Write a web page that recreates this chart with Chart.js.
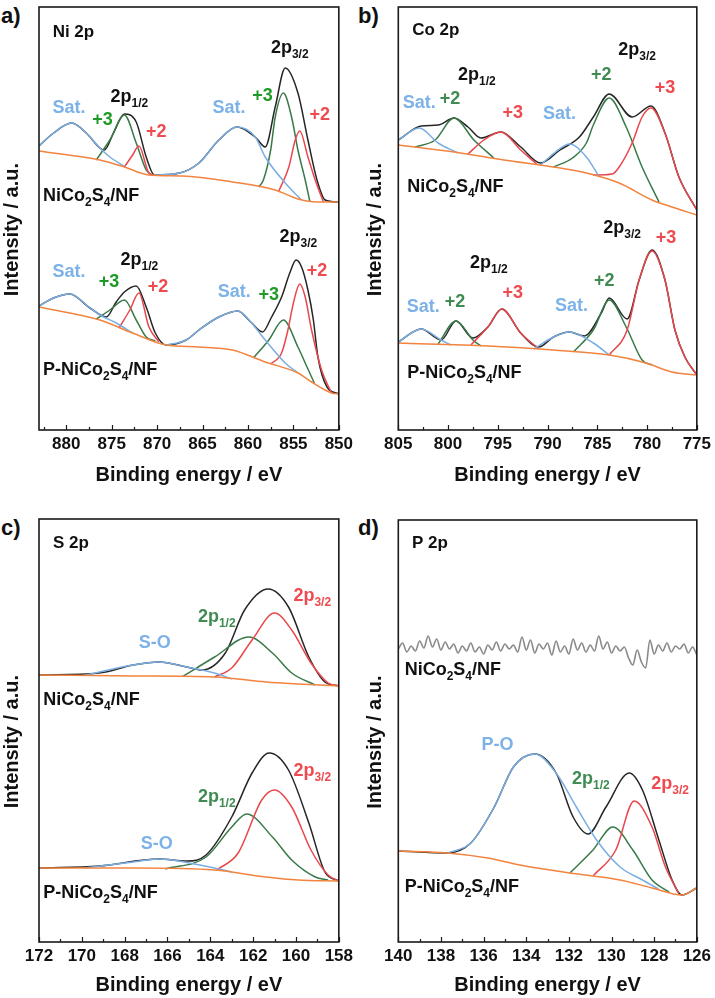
<!DOCTYPE html>
<html><head><meta charset="utf-8">
<script src="https://cdn.jsdelivr.net/npm/chart.js@4/dist/chart.umd.min.js"></script>
<style>
body{margin:0;background:#fff;width:715px;height:998px;position:relative;overflow:hidden;font-family:"Liberation Sans",Arial,sans-serif}
canvas{position:absolute}
.pl{position:absolute;font-weight:bold;font-size:22px;line-height:22px;color:#111}
</style></head><body>
<div class="pl" style="left:1px;top:5px">a)</div>
<div class="pl" style="left:358px;top:5px">b)</div>
<div class="pl" style="left:1px;top:517px">c)</div>
<div class="pl" style="left:358px;top:517px">d)</div>
<canvas id="ca" width="357" height="498" style="left:0;top:0"></canvas>
<canvas id="cb" width="358" height="498" style="left:357px;top:0"></canvas>
<canvas id="cc" width="357" height="500" style="left:0;top:498px"></canvas>
<canvas id="cd" width="358" height="500" style="left:357px;top:498px"></canvas>
<script>
// ---------- tick labels ----------
const aTicks=[880,875,870,865,860,855,850], aMinor=[882.5,877.5,872.5,867.5,862.5,857.5,852.5];
const bTicks=[805,800,795,790,785,780,775], bMinor=[802.5,797.5,792.5,787.5,782.5,777.5];
const cTicks=[172,170,168,166,164,162,160,158], cMinor=[171,169,167,165,163,161,159];
const dTicks=[140,138,136,134,132,130,128,126], dMinor=[139,137,135,133,131,129,127];

// ---------- (a) Ni 2p : [binding energy eV, intensity a.u.] ----------
const aTopEnv=[[883,284],[881.4,297],[879.4,307],[877.8,297],[876.3,282],[875.8,280],[874.8,297],[873.6,316],[872.3,308],[871.2,273],[870.3,255],[867.5,257],[865.4,267],[863.2,290],[861.2,303],[859.2,293],[858.1,283],[857,323],[855.9,362],[854.5,337],[853.4,290],[852.4,250],[851.5,230],[850,228]];
const aTopBg=[[883,279],[876.3,270],[873.6,263],[870.9,255],[867.2,254],[861.7,248],[857,240],[854.5,231],[852.4,228],[850,228]];
const aTopSat1=[[883,284],[881.4,297],[879.4,307],[877.8,297],[876.3,282],[875.2,273],[873.5,263]];
const aTopNi3a=[[876.7,270],[875.2,290],[873.6,315],[872.3,287],[871.2,260],[870.6,255]];
const aTopNi2a=[[873.6,263],[872.7,275],[872,284],[870.9,257],[870.3,255]];
const aTopSat2=[[870.3,255],[867.5,257],[865.4,267],[863.2,290],[861.2,303],[859.2,293],[858.1,273],[855.5,243],[854.1,230]];
const aTopNi3b=[[858.8,243],[858.3,250],[857.5,280],[857,313],[856.1,337],[855.2,313],[854.5,280],[853.7,250],[853.2,229]];
const aTopNi2b=[[856.6,239],[855.5,263],[854.8,290],[854.3,299],[853.4,273],[852.6,250],[851.7,228]];

const aBotEnv=[[883,124],[881.4,132],[879.6,136],[877.4,122],[875.6,113],[874.5,128],[873.6,138],[872.3,144],[871.2,123],[870.2,97],[869,85],[866.8,90],[865.4,100],[863.2,113],[861.1,119],[859.7,108],[858.4,98],[857.4,113],[856.3,133],[855.4,157],[854.7,170],[854.1,163],[853.4,140],[852.8,110],[852.3,73],[851.3,43],[850,36]];
const aBotBg=[[883,123],[876.3,110],[872.7,97],[869,85],[865.4,83],[861.7,80],[858.1,68],[854.5,57],[853,48],[850.8,37],[850,36]];
const aBotSat1=[[883,124],[881.4,132],[879.6,136],[877.4,122],[876.3,115],[874.5,107],[872.7,97]];
const aBotNi3a=[[876.7,111],[875.2,120],[873.6,130],[872.3,110],[871.2,93],[870.2,89]];
const aBotNi2a=[[874.2,102],[873,120],[872,137],[870.9,103],[869.8,88]];
const aBotSat2=[[869,85],[866.8,90],[865.4,100],[863.2,113],[861.1,119],[859.7,108],[858.1,90],[855.9,67],[854.5,57]];
const aBotNi3b=[[859.4,72],[857.7,90],[856.1,110],[854.5,83],[853.5,63],[852.7,47]];
const aBotNi2b=[[857.5,66],[856.3,77],[855.6,100],[855,127],[854.3,146],[853.7,133],[853,100],[851.9,60],[850.8,37]];

// ---------- (b) Co 2p ----------
const bTopEnv=[[805,290],[802.7,304],[801,305],[799.4,312],[798,303],[796.7,292],[794.7,298],[792.7,283],[790.7,267],[788.75,280],[786.8,293],[785.4,313],[783.8,336],[781.5,313],[779.6,324],[778.2,297],[776.8,253],[775,220]];
const bTopBg=[[805,285],[799.4,278],[794.4,270],[789.4,263],[786.1,257],[782.8,247],[779.5,230],[777.5,223],[775,215]];
const bTopSat1=[[805,290],[802.9,302],[801,287],[799,277]];
const bTopCo2a=[[803.3,283],[801.3,290],[799.4,312],[797.4,290],[795.4,272]];
const bTopCo3a=[[798,276],[796.4,290],[794.7,298],[792.7,280],[791.1,266]];
const bTopSat2=[[790.7,265],[789.2,278],[787.8,286],[786.1,273],[784.8,253]];
const bTopCo2b=[[789.4,263],[787.5,272],[786.1,287],[785.4,305],[783.8,332],[782.1,303],[780.5,263],[778.8,228]];
const bTopCo3b=[[785.4,255],[783.5,256],[782.8,263],[781.5,287],[780.5,313],[779.6,322],[778.2,297],[776.8,253],[775,220]];

const bBotEnv=[[805,88],[802.7,101],[800.7,90],[799.2,109],[797.5,92],[796,103],[794.6,121],[792.7,97],[790.9,83],[789.4,93],[787.8,98],[786.3,94],[784.6,117],[783.8,132],[782,111],[780.8,150],[779.5,180],[778.2,150],[777.2,100],[776.2,73],[775,55]];
const bBotBg=[[805,87],[796,84],[789.4,80],[783.8,75],[780.1,67],[777.5,58],[775,55]];
const bBotSat1=[[805,88],[802.7,101],[800.7,90],[799.7,85]];
const bBotCo2a=[[801,86],[799.2,109],[797.5,90],[796.7,84]];
const bBotCo3a=[[797.7,85],[796,103],[794.6,121],[792.7,97],[790.9,81]];
const bBotSat2=[[791.4,81],[789.4,93],[787.8,98],[785.4,87],[783.8,75]];
const bBotCo2b=[[787.4,78],[785.4,100],[783.8,130],[782.1,103],[780.5,70],[779.5,65]];
const bBotCo3b=[[783.8,75],[782,100],[780.8,150],[779.5,179],[778.2,150],[777.2,100],[776.2,73],[775,55]];

// ---------- (c) S 2p ----------
const cTopEnv=[[172,267],[169.2,269],[167.6,277],[166.4,280],[165.1,275],[164.4,272],[163.3,289],[162.4,332],[161.3,353],[160.35,335],[159.4,285],[158.65,260],[158,256]];
const cTopBg=[[172,267],[167.6,266],[163.8,265],[161.4,260],[159.9,258],[158,256]];
const cTopSO=[[169.9,266.5],[167.6,277],[166.4,280],[165.1,275],[163.8,269],[163,263]];
const cTopP12=[[165.3,265.4],[163.8,285],[162.2,305],[161.1,289],[160.2,269],[159.1,257]];
const cTopP32=[[163.8,265],[163,274],[162.05,302],[161,329],[160.2,312],[159.3,279],[158.5,259],[158,256]];

const cBotEnv=[[172,74],[169.2,76],[166.4,83],[165.1,81],[164.2,87],[163,125],[162.05,169],[161.25,189],[160.35,172],[159.4,119],[158.65,70],[158,61]];
const cBotBg=[[172,74],[167.6,74],[163.8,72],[161.4,65],[159.9,62],[158,61]];
const cBotSO=[[169.9,74],[167.6,80],[166.4,83],[164.5,77],[163,70]];
const cBotP12=[[166.1,73],[164.2,85],[163,115],[162.3,128],[161.1,105],[160.2,82],[159.1,65],[158.5,62]];
const cBotP32=[[163.7,72],[162.7,89],[161.6,142],[161,152],[160.2,135],[159.3,92],[158.5,67],[158,61]];

// ---------- (d) P 2p ----------
const dTopRaw=[[140,293],[139.8,299],[139.6,290],[139.4,296],[139.2,291],[139,301],[138.8,294],[138.6,306],[138.4,295],[138.2,303],[138,292],[137.8,300],[137.6,293],[137.4,298],[137.2,289],[137,296],[136.8,291],[136.6,299],[136.4,290],[136.2,295],[136,288],[135.8,297],[135.6,292],[135.4,300],[135.2,291],[135,298],[134.8,293],[134.6,297],[134.4,290],[134.2,305],[134,292],[133.8,302],[133.6,289],[133.4,298],[133.2,293],[133,299],[132.8,287],[132.6,301],[132.4,290],[132.2,296],[132,288],[131.8,303],[131.6,292],[131.4,299],[131.2,290],[131,297],[130.8,291],[130.6,306],[130.4,293],[130.2,300],[130,289],[129.8,296],[129.6,291],[129.4,295],[129.2,284],[129,277],[128.8,292],[128.6,280],[128.4,274],[128.2,302],[128,288],[127.8,297],[127.6,291],[127.4,299],[127.2,290],[127,296],[126.8,293],[126.6,298],[126.4,289],[126.2,295],[126,287]];
const dBotEnv=[[140,91],[137.7,89],[136.6,99],[135.5,135],[134.6,175],[133.6,188],[132.6,169],[131.8,125],[131.1,108],[130.26,135],[129.17,169],[128.55,152],[127.78,102],[127.16,62],[126.7,47],[126,54]];
const dBotBg=[[140,91],[137.7,89],[135.8,84],[134.3,77],[131.95,69],[129.6,62],[128.1,54],[126.7,47],[126,54]];
const dBotPO=[[137.7,89],[136.6,99],[135.5,135],[134.6,175],[133.6,188],[132.6,169],[131.65,135],[130.7,102],[129.6,75],[128.55,62],[127.8,53]];
const dBotP12=[[131.95,69],[130.87,92],[129.94,115],[129,92],[128.1,62],[127.3,50]];
const dBotP32=[[130.87,66],[129.8,92],[128.94,141],[128.1,115],[127.47,75],[126.85,48.5]];

// ---------- styles ----------
const F='"Liberation Sans", Arial, sans-serif';
const K='#262626', OR='#f2843f', BL='#7aaee2', GR='#387a47', RD='#e8474b', NS='#8a8a8a';
const tBL='#7db2e8', tGRa='#1f9a26', tGR='#3f8b52', tRD='#ef4a4f', tK='#111';

const aLabels=[
 {x:881.5,y:398,t:'Ni 2p',c:tK,al:'left',s:17},
 {x:855.4,y:382,t:'2p_{3/2}',c:tK},
 {x:879.7,y:322,t:'Sat.',c:tBL},
 {x:876,y:310,t:'+3',c:tGRa},
 {x:873.05,y:333,t:'2p_{1/2}',c:tK},
 {x:870.1,y:298,t:'+2',c:tRD},
 {x:862.1,y:322,t:'Sat.',c:tBL},
 {x:858.4,y:334,t:'+3',c:tGRa},
 {x:852.1,y:315,t:'+2',c:tRD},
 {x:882.56,y:234,t:'NiCo_{2}S_{4}/NF',c:tK,al:'left'},
 {x:854.45,y:193,t:'2p_{3/2}',c:tK},
 {x:871.95,y:170,t:'2p_{1/2}',c:tK},
 {x:879.7,y:158,t:'Sat.',c:tBL},
 {x:875.3,y:148,t:'+3',c:tGRa},
 {x:869.9,y:143,t:'+2',c:tRD},
 {x:861.5,y:138,t:'Sat.',c:tBL},
 {x:857.7,y:135,t:'+3',c:tGRa},
 {x:852.4,y:159,t:'+2',c:tRD},
 {x:882.56,y:60,t:'P-NiCo_{2}S_{4}/NF',c:tK,al:'left'}
];
const bLabels=[
 {x:803.6,y:400,t:'Co 2p',c:tK,al:'left',s:17},
 {x:781,y:380,t:'2p_{3/2}',c:tK},
 {x:784.6,y:355,t:'+2',c:tGR},
 {x:778.2,y:342,t:'+3',c:tRD},
 {x:797.1,y:355,t:'2p_{1/2}',c:tK},
 {x:802.9,y:327,t:'Sat.',c:tBL},
 {x:799.8,y:331,t:'+2',c:tGR},
 {x:793.5,y:317,t:'+3',c:tRD},
 {x:788.8,y:316,t:'Sat.',c:tBL},
 {x:804.1,y:243,t:'NiCo_{2}S_{4}/NF',c:tK,al:'left'},
 {x:782.5,y:202,t:'2p_{3/2}',c:tK},
 {x:778.1,y:192,t:'+3',c:tRD},
 {x:795.9,y:167,t:'2p_{1/2}',c:tK},
 {x:793.5,y:137,t:'+3',c:tRD},
 {x:802.5,y:123,t:'Sat.',c:tBL},
 {x:799.3,y:128,t:'+2',c:tGR},
 {x:787.6,y:124,t:'Sat.',c:tBL},
 {x:784.3,y:149,t:'+2',c:tGR},
 {x:804.1,y:57,t:'P-NiCo_{2}S_{4}/NF',c:tK,al:'left'}
];
const cLabels=[
 {x:171.35,y:399,t:'S 2p',c:tK,al:'left',s:17},
 {x:159.24,y:346,t:'2p_{3/2}',c:tRD},
 {x:163.7,y:325,t:'2p_{1/2}',c:tGR},
 {x:166.6,y:299,t:'S-O',c:tBL},
 {x:171.8,y:242,t:'NiCo_{2}S_{4}/NF',c:tK,al:'left'},
 {x:159.24,y:171,t:'2p_{3/2}',c:tRD},
 {x:163.7,y:145,t:'2p_{1/2}',c:tGR},
 {x:166.5,y:98,t:'S-O',c:tBL},
 {x:171.8,y:49,t:'P-NiCo_{2}S_{4}/NF',c:tK,al:'left'}
];
const dLabels=[
 {x:139.36,y:399,t:'P 2p',c:tK,al:'left',s:17},
 {x:139.7,y:272,t:'NiCo_{2}S_{4}/NF',c:tK,al:'left'},
 {x:135.35,y:197,t:'P-O',c:tBL},
 {x:130.97,y:163,t:'2p_{1/2}',c:tGR},
 {x:127.25,y:158,t:'2p_{3/2}',c:tRD},
 {x:139.7,y:55,t:'P-NiCo_{2}S_{4}/NF',c:tK,al:'left'}
];

function parseRich(str){
  const out=[]; const re=/_\{([^}]*)\}/g; let last=0,m;
  while((m=re.exec(str))){ if(m.index>last) out.push([str.slice(last,m.index),false]); out.push([m[1],true]); last=re.lastIndex; }
  if(last<str.length) out.push([str.slice(last),false]);
  return out;
}
function drawRich(ctx,x,y,str,color,size,align){
  const parts=parseRich(str), ss=Math.round(size*0.66);
  const fMain='bold '+size+'px '+F, fSub='bold '+ss+'px '+F;
  let w=0; parts.forEach(p=>{ctx.font=p[1]?fSub:fMain; w+=ctx.measureText(p[0]).width;});
  let cx = align==='left'?x:x-w/2;
  ctx.fillStyle=color; ctx.textAlign='left'; ctx.textBaseline='middle';
  parts.forEach(p=>{ctx.font=p[1]?fSub:fMain; ctx.fillText(p[0],cx,p[1]?y+size*0.36:y); cx+=ctx.measureText(p[0]).width;});
}

const deco={
  id:'deco',
  afterDatasetsDraw(chart,args,o){
    const {ctx,chartArea:a,scales:{x,y}}=chart;
    ctx.save();
    ctx.strokeStyle='#1a1a1a'; ctx.lineWidth=1.2;
    const tick=(v,len)=>{const px=Math.round(x.getPixelForValue(v))+0.5; ctx.beginPath(); ctx.moveTo(px,a.bottom); ctx.lineTo(px,a.bottom-len); ctx.stroke();};
    o.major.forEach(v=>tick(v,5)); o.minor.forEach(v=>tick(v,3));
    ctx.lineWidth=1.6; ctx.strokeStyle='#1a1a1a';
    ctx.strokeRect(a.left,a.top,a.right-a.left,a.bottom-a.top);
    o.labels.forEach(l=>drawRich(ctx,x.getPixelForValue(l.x),y.getPixelForValue(l.y),l.t,l.c,l.s||18,l.al||'center'));
    ctx.restore();
  }
};

function ds(arr,color,w){return {data:arr.map(p=>({x:p[0],y:p[1]})),borderColor:color,borderWidth:w||1.5,pointRadius:0,fill:false,cubicInterpolationMode:'monotone',tension:0};}

function panel(id,cfg){
  new Chart(document.getElementById(id),{
    type:'line',
    data:{datasets:cfg.series},
    options:{
      animation:false,responsive:false,devicePixelRatio:1,
      layout:{padding:{top:cfg.top,right:cfg.right,left:0,bottom:0}},
      plugins:{legend:{display:false},tooltip:{enabled:false},deco:{major:cfg.ticks,minor:cfg.minor,labels:cfg.labels}},
      scales:{
        x:{type:'linear',min:cfg.xmin,max:cfg.xmax,reverse:true,
          afterBuildTicks:s=>{s.ticks=cfg.ticks.map(v=>({value:v}));},
          afterFit:s=>{s.height=cfg.xh;},
          grid:{display:false,drawTicks:false},border:{display:false},
          ticks:{color:'#111',font:{family:F,size:17,weight:'bold'},padding:4,maxRotation:0,autoSkip:false},
          title:{display:true,text:'Binding energy / eV',color:'#111',font:{family:F,size:20,weight:'bold'},padding:{top:0,bottom:cfg.tpad}}},
        y:{type:'linear',min:0,max:cfg.ymax,
          afterFit:s=>{s.width=cfg.left;},
          grid:{display:false},border:{display:false},ticks:{display:false},
          title:{display:true,text:'Intensity / a.u.    ',color:'#111',font:{family:F,size:20,weight:'bold'},padding:{top:cfg.ytp,bottom:0}}}
      }
    },
    plugins:[deco]
  });
}

// dataset order: first = drawn on top (background), then components, envelope at the bottom
panel('ca',{xmin:850,xmax:883,ymax:423,top:7,right:16.3,left:39,xh:68,tpad:11,ytp:0,ticks:aTicks,minor:aMinor,labels:aLabels,
  series:[ds(aTopBg,OR),ds(aBotBg,OR),
    ds(aTopSat1,BL),ds(aTopSat2,BL),ds(aBotSat1,BL),ds(aBotSat2,BL),
    ds(aTopNi2a,RD),ds(aTopNi2b,RD),ds(aBotNi2a,RD),ds(aBotNi2b,RD),
    ds(aTopNi3a,GR),ds(aTopNi3b,GR),ds(aBotNi3a,GR),ds(aBotNi3b,GR),
    ds(aTopEnv,K),ds(aBotEnv,K)]});
panel('cb',{xmin:775,xmax:805,ymax:423,top:7,right:15,left:41.3,xh:68,tpad:11,ytp:6,ticks:bTicks,minor:bMinor,labels:bLabels,
  series:[ds(bTopBg,OR),ds(bBotBg,OR),
    ds(bTopSat1,BL),ds(bTopSat2,BL),ds(bBotSat1,BL),ds(bBotSat2,BL),
    ds(bTopCo3a,RD),ds(bTopCo3b,RD),ds(bBotCo3a,RD),ds(bBotCo3b,RD),
    ds(bTopCo2a,GR),ds(bTopCo2b,GR),ds(bBotCo2a,GR),ds(bBotCo2b,GR),
    ds(bTopEnv,K),ds(bBotEnv,K)]});
panel('cc',{xmin:158,xmax:172,ymax:423,top:21,right:16.3,left:39,xh:56,tpad:1,ytp:0,ticks:cTicks,minor:cMinor,labels:cLabels,
  series:[ds(cTopBg,OR),ds(cBotBg,OR),ds(cTopSO,BL),ds(cBotSO,BL),
    ds(cTopP32,RD),ds(cBotP32,RD),ds(cTopP12,GR),ds(cBotP12,GR),
    ds(cTopEnv,K),ds(cBotEnv,K)]});
panel('cd',{xmin:126,xmax:140,ymax:422,top:22,right:15,left:41.3,xh:56,tpad:1,ytp:6,ticks:dTicks,minor:dMinor,labels:dLabels,
  series:[ds(dBotBg,OR),ds(dBotPO,BL),ds(dBotP32,RD),ds(dBotP12,GR),ds(dBotEnv,K),ds(dTopRaw,NS,1.6)]});
</script>
</body></html>
